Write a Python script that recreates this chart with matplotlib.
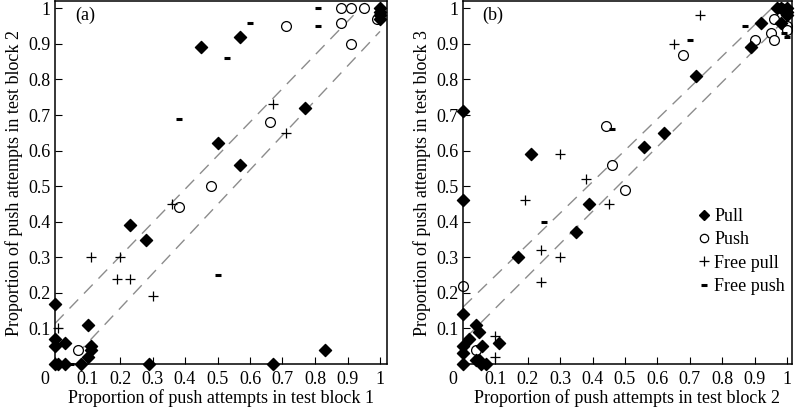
import matplotlib
matplotlib.use("Agg")
import matplotlib.pyplot as plt
from matplotlib.lines import Line2D
from matplotlib.transforms import ScaledTranslation

plt.rcParams["font.family"] = ["Liberation Serif", "DejaVu Serif"]

# ── panel (a): block 1 vs block 2 ───────────────────────────────────
a_pull_x = [0.45, 0.57, 0.77, 0.50, 0.57, 1.0, 1.0, 1.0, 1.0, 0.23, 0.28, 0.0, 0.0, 0.0,
            0.03, 0.10, 0.11, 0.11, 0.10, 0.0, 0.01, 0.03, 0.08, 0.29, 0.67, 0.83]
a_pull_y = [0.89, 0.92, 0.72, 0.62, 0.56, 1.0, 0.99, 0.98, 0.97, 0.39, 0.35, 0.17, 0.07, 0.05,
            0.06, 0.11, 0.05, 0.04, 0.02, 0.0, 0.0, 0.0, 0.0, 0.0, 0.0, 0.04]
a_push_x = [0.71, 0.88, 0.91, 0.95, 0.88, 0.91, 0.99, 0.66, 0.48, 0.38, 0.07]
a_push_y = [0.95, 1.0, 1.0, 1.0, 0.96, 0.90, 0.97, 0.68, 0.50, 0.44, 0.04]
a_fpull_x = [0.67, 0.71, 0.36, 0.11, 0.20, 0.19, 0.23, 0.30, 0.01]
a_fpull_y = [0.73, 0.65, 0.45, 0.30, 0.30, 0.24, 0.24, 0.19, 0.10]
a_fpush_x = [0.81, 0.81, 0.60, 0.53, 0.38, 0.50, 0.05]
a_fpush_y = [1.0, 0.95, 0.96, 0.86, 0.69, 0.25, 0.0]
a_upper_x, a_upper_y = [0.0, 0.955], [0.114, 1.015]
a_lower_x, a_lower_y = [0.065, 1.0], [0.025, 0.935]

# ── panel (b): block 2 vs block 3 ───────────────────────────────────
b_pull_x = [0.21, 0.0, 0.56, 0.62, 0.72, 0.89, 0.92, 0.98, 0.97, 0.98, 1.0, 1.0, 1.0,
            0.0, 0.39, 0.35, 0.17, 0.0, 0.04, 0.02, 0.05, 0.06, 0.11, 0.0, 0.0, 0.0,
            0.04, 0.05, 0.055, 0.07]
b_pull_y = [0.59, 0.71, 0.61, 0.65, 0.81, 0.89, 0.96, 0.96, 1.0, 1.0, 1.0, 0.99, 0.98,
            0.46, 0.45, 0.37, 0.30, 0.14, 0.11, 0.07, 0.09, 0.05, 0.06, 0.05, 0.03, 0.0,
            0.01, 0.01, 0.0, 0.0]
b_push_x = [0.44, 0.46, 0.50, 0.68, 0.90, 0.95, 0.96, 0.96, 0.98, 1.0, 1.0, 0.0, 0.04]
b_push_y = [0.67, 0.56, 0.49, 0.87, 0.91, 0.93, 0.91, 0.97, 1.0, 0.95, 0.94, 0.22, 0.04]
b_fpull_x = [0.73, 0.65, 0.30, 0.38, 0.19, 0.45, 0.24, 0.30, 0.24, 0.10, 0.10]
b_fpull_y = [0.98, 0.90, 0.59, 0.52, 0.46, 0.45, 0.32, 0.30, 0.23, 0.08, 0.02]
b_fpush_x = [0.70, 0.87, 0.46, 0.99, 1.0, 0.25]
b_fpush_y = [0.91, 0.95, 0.66, 0.93, 0.92, 0.40]
b_upper_x, b_upper_y = [0.0, 0.97], [0.16, 1.015]
b_lower_x, b_lower_y = [0.01, 0.99], [0.075, 0.965]

xticks = [0, 0.1, 0.2, 0.3, 0.4, 0.5, 0.6, 0.7, 0.8, 0.9, 1]
xtick_labels = ["0", "0.1", "0.2", "0.3", "0.4", "0.5", "0.6", "0.7", "0.8", "0.9", "1"]
yticks = [0.1, 0.2, 0.3, 0.4, 0.5, 0.6, 0.7, 0.8, 0.9, 1]
ytick_labels = ["0.1", "0.2", "0.3", "0.4", "0.5", "0.6", "0.7", "0.8", "0.9", "1"]

W, H = 796, 411
fig = plt.figure(figsize=(W / 100, H / 100), dpi=100)


def axes_px(left, right, top, bottom):
    return fig.add_axes([left / W, 1 - bottom / H, (right - left) / W, (bottom - top) / H])


def draw_panel(ax, pull, push, fpull, fpush, upper, lower, xmax, ymax, tag, xlabel, ylabel):
    dash = dict(color="#8c8c8c", linewidth=1.0, linestyle=(0, (9, 6)), zorder=1)
    ax.plot(*upper, **dash)
    ax.plot(*lower, **dash)
    ax.scatter(*pull, marker="D", s=38, color="black", zorder=3, clip_on=False)
    ax.scatter(*push, marker="o", s=50, facecolor="white", edgecolor="black",
               linewidth=0.9, zorder=2, clip_on=False)
    ax.scatter(*fpull, marker="+", s=55, color="black", linewidth=0.9, zorder=3, clip_on=False)
    ax.scatter(*fpush, marker="_", s=22, color="black", linewidth=2.2, zorder=3, clip_on=False)
    ax.set_xlim(0, xmax)
    ax.set_ylim(0, ymax)
    ax.set_xticks(xticks)
    ax.set_xticklabels(xtick_labels)
    ax.set_yticks(yticks)
    ax.set_yticklabels(ytick_labels)
    ax.tick_params(direction="in", length=5, width=0.8, labelsize=13, pad=3)
    ax.tick_params(axis="x", pad=5)
    for sp in ax.spines.values():
        sp.set_linewidth(1.1)
    # "0" sta più a sinistra del tick nel grafico originale
    for lab in ax.get_xticklabels():
        if lab.get_text() == "0":
            lab.set_transform(lab.get_transform() + ScaledTranslation(-0.1, 0, fig.dpi_scale_trans))
    ax.text(0.06, 0.985, tag, transform=ax.transAxes, fontsize=13, va="top", ha="left")
    ax.set_xlabel(xlabel, fontsize=13, labelpad=1)
    ax.set_ylabel(ylabel, fontsize=13, labelpad=4)


ax_a = axes_px(55, 387, 1, 364)
draw_panel(ax_a, (a_pull_x, a_pull_y), (a_push_x, a_push_y), (a_fpull_x, a_fpull_y),
           (a_fpush_x, a_fpush_y), (a_upper_x, a_upper_y), (a_lower_x, a_lower_y),
           332 / 325, 363 / 355.7, "(a)",
           "Proportion of push attempts in test block 1",
           "Proportion of push attempts in test block 2")

ax_b = axes_px(463, 792, 1, 364)
draw_panel(ax_b, (b_pull_x, b_pull_y), (b_push_x, b_push_y), (b_fpull_x, b_fpull_y),
           (b_fpush_x, b_fpush_y), (b_upper_x, b_upper_y), (b_lower_x, b_lower_y),
           329 / 324, 363 / 355.7, "(b)",
           "Proportion of push attempts in test block 2",
           "Proportion of push attempts in test block 3")

handles = [
    Line2D([], [], marker="D", markersize=5, color="black", linestyle="none"),
    Line2D([], [], marker="o", markersize=6, markerfacecolor="white",
           markeredgecolor="black", markeredgewidth=0.9, linestyle="none"),
    Line2D([], [], marker="+", markersize=7, color="black", markeredgewidth=0.9, linestyle="none"),
    Line2D([], [], marker="_", markersize=5, color="black", markeredgewidth=2.2, linestyle="none"),
]
ax_b.legend(handles, ["Pull", "Push", "Free pull", "Free push"], loc="upper left",
            bbox_to_anchor=(0.69, 0.455), frameon=False, fontsize=13,
            handlelength=0.6, handletextpad=0.25, labelspacing=0.35, borderpad=0)

fig.savefig("out.png", dpi=100)
